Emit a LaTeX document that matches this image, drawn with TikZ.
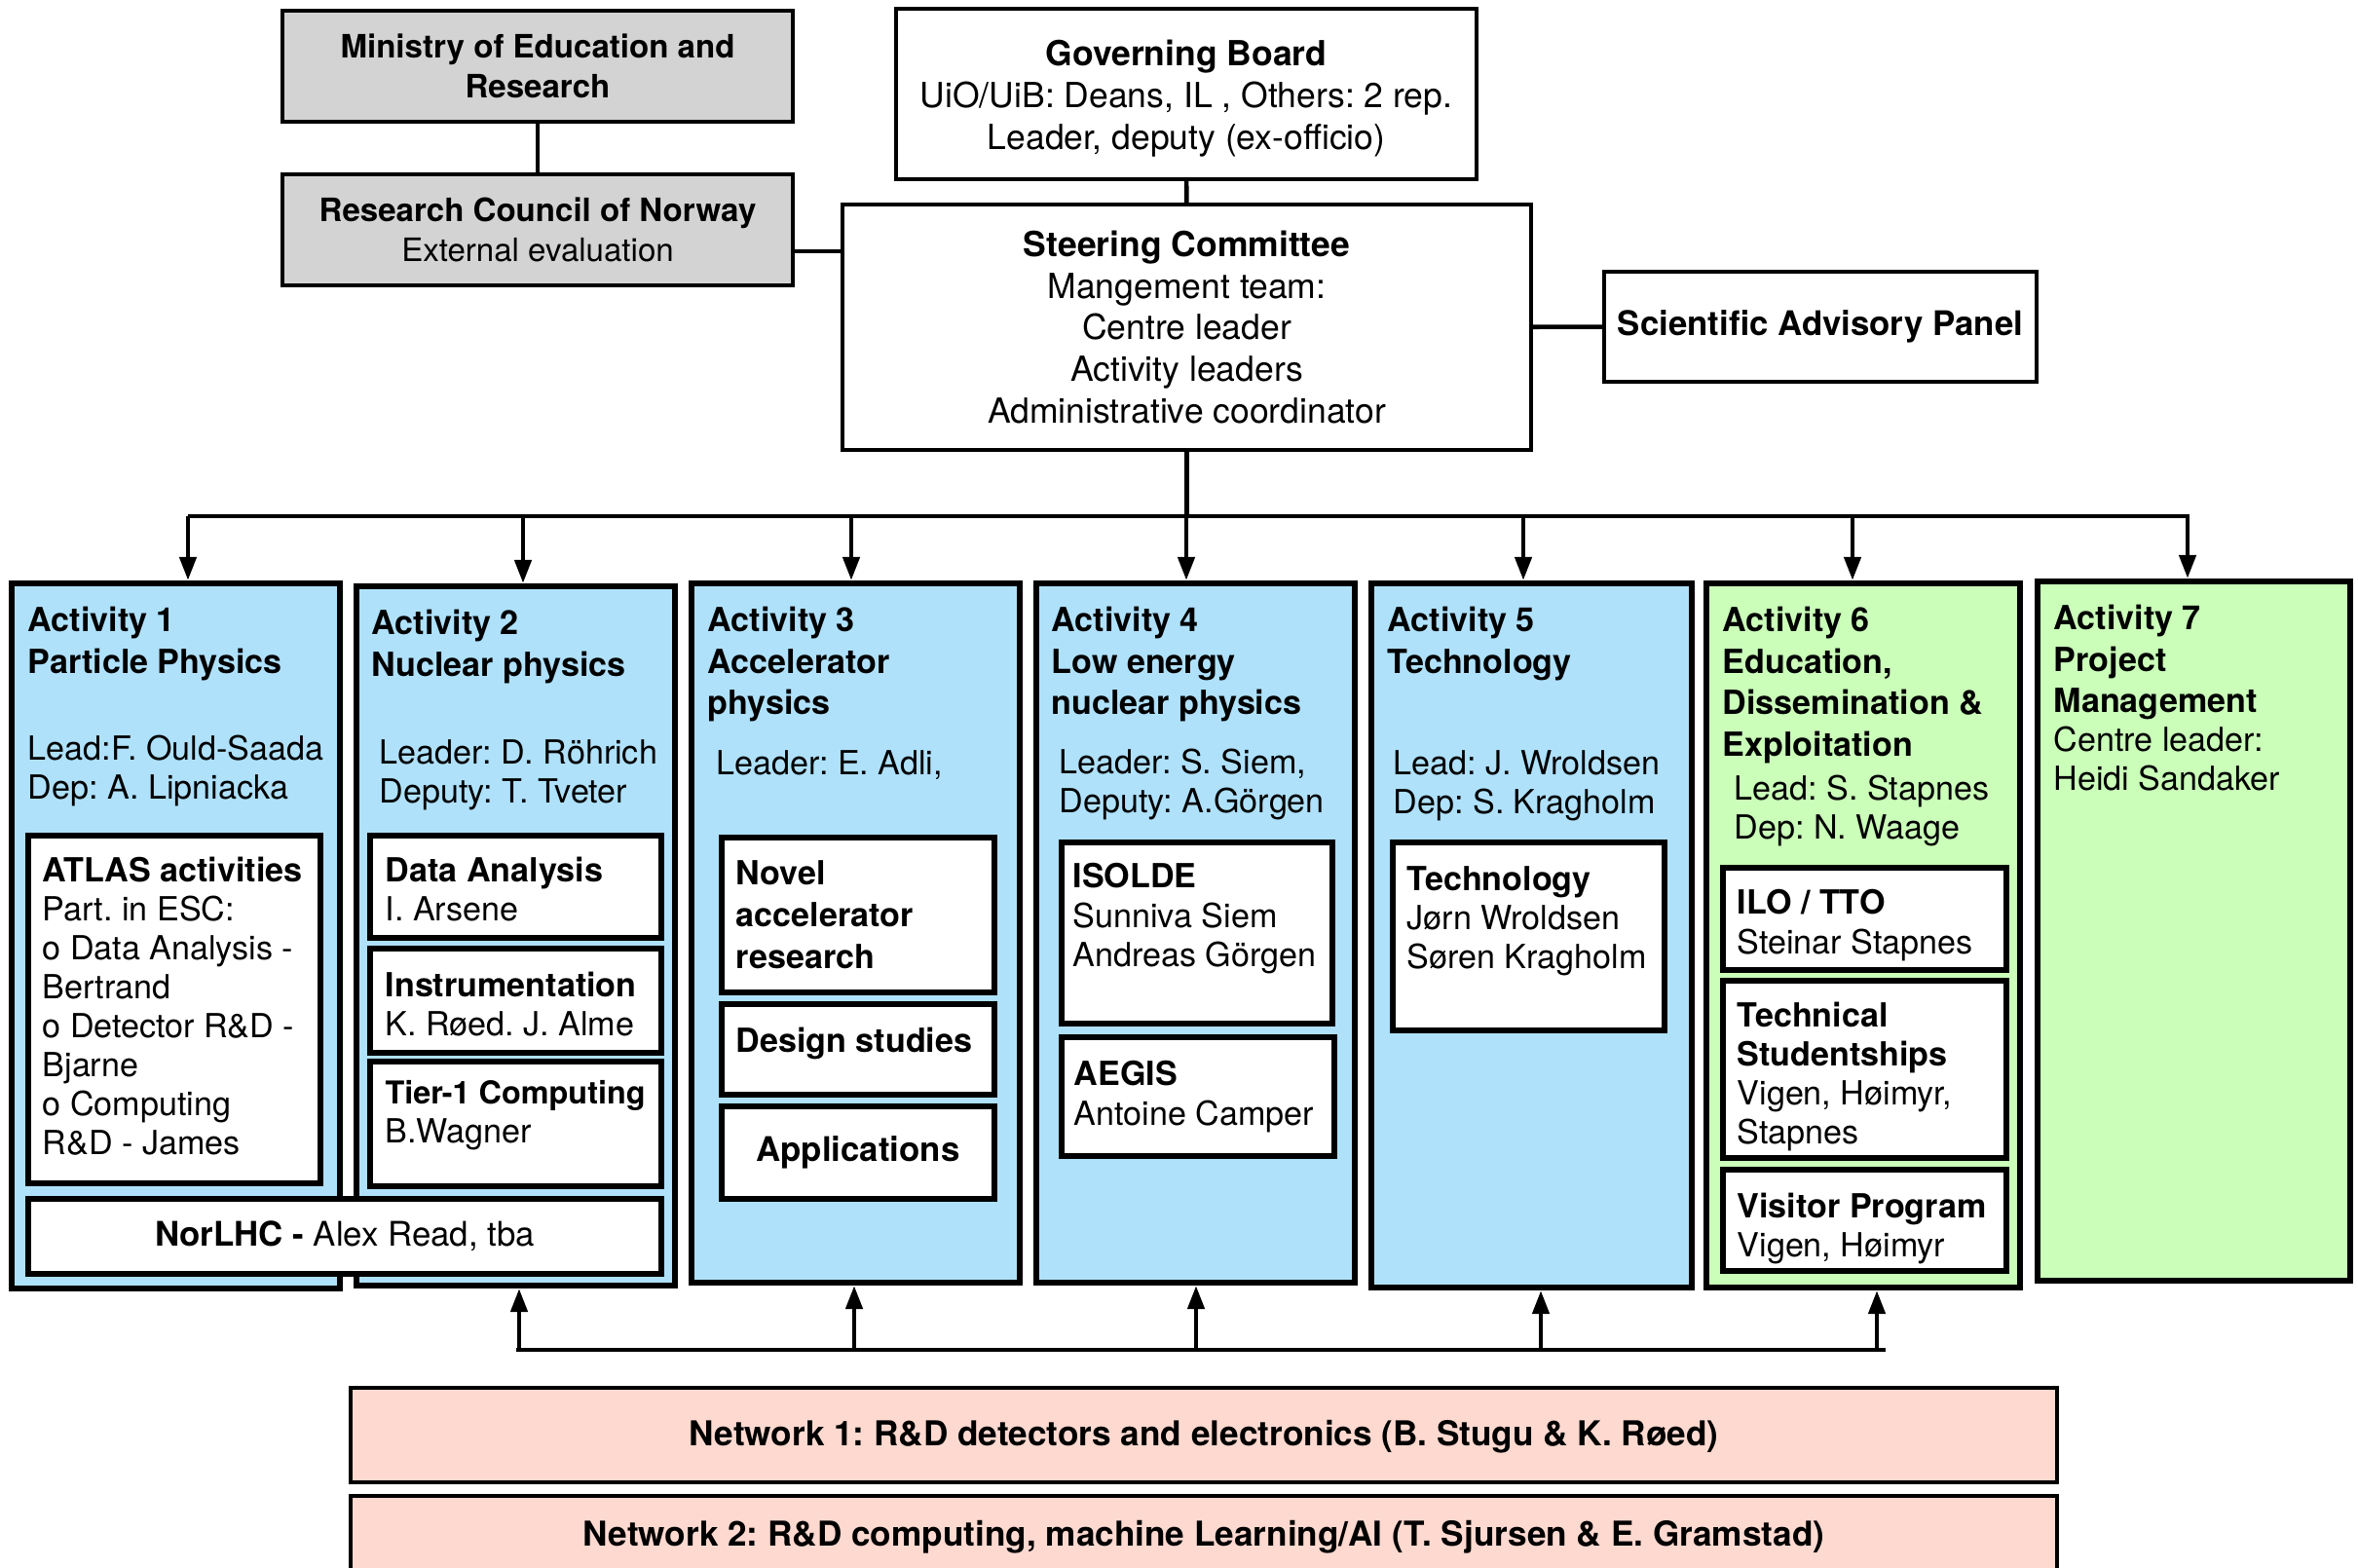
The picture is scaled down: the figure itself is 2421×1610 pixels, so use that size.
\documentclass[tikz,border=0pt]{standalone}
\usepackage{fontspec}
\setmainfont{TeX Gyre Heros}
\usepackage{tikz}
\usetikzlibrary{arrows.meta}
\usetikzlibrary{fit}
\definecolor{actblue}{HTML}{AFE1FB}
\definecolor{actgreen}{HTML}{CAFEB9}
\definecolor{boardgray}{HTML}{D3D3D3}
\definecolor{netpink}{HTML}{FDD9D0}
\frenchspacing

\begin{document}
\begin{tikzpicture}[x=0.01cm,y=-0.01cm,
	topbox/.style={draw,line width=1pt,inner sep=0pt},
	boxtext/.style={inner sep=0pt,align=center,font=\fontsize{10.1}{12.2}\selectfont},
	graytext/.style={inner sep=0pt,align=center,font=\fontsize{9.4}{11.6}\selectfont},
	actbox/.style={draw,line width=1.8pt,inner sep=0pt},
	subbox/.style={draw,line width=1.8pt,fill=white,inner sep=0pt},
	acthead/.style={anchor=north west,inner sep=0pt,align=left,font=\fontsize{9.7}{12.2}\selectfont\bfseries},
	acttext/.style={anchor=north west,inner sep=0pt,align=left,font=\fontsize{9.7}{11.4}\selectfont},
	conn/.style={line width=1.3pt},
	arr/.style={line width=1.3pt,-{Triangle[length=0.24cm,width=0.17cm]}}]
			\clip (0,0) rectangle (2421,1610);
			\node[topbox,fill=boardgray,fit={(290,11)(814,125)}] (ministry) {};
			\node[graytext] (ministrytxt) at (ministry) {{\bfseries Ministry of Education and}\\{\bfseries Research}};
			\node[topbox,fill=boardgray,fit={(290,179)(814,293)}] (rcn) {};
			\node[graytext] (rcntxt) at (rcn) {{\bfseries Research Council of Norway}\\External evaluation};
			\node[topbox,fit={(920,9)(1516,184)}] (gb) {};
			\node[boxtext,yshift=-1.3pt] (gbtxt) at (gb) {{\bfseries Governing Board}\\UiO/UiB: Deans, IL , Others: 2 rep.\\Leader, deputy (ex-officio)};
			\node[topbox,fit={(865,210)(1572,462)}] (sc) {};
			\node[boxtext] (sctxt) at (sc) {{\bfseries Steering Committee}\\Mangement team:\\Centre leader\\Activity leaders\\Administrative coordinator};
			\node[topbox,fit={(1647,279)(2091,392)}] (sap) {};
			\node[boxtext,font=\fontsize{9.9}{12}\selectfont] (saptxt) at (sap) {\bfseries Scientific Advisory Panel};
			\draw[conn] (ministry) -- (rcn);
			\draw[conn] (gb) -- (sc);
			\draw[conn] (rcn.east|-0,258) -- (sc.west|-0,258);
			\draw[conn] (sc) -- (sap);
			\coordinate (busl) at (193,530);
			\coordinate (busr) at (2248,530);
			\draw[conn] (sc.south) -- (sc.south|-busl);
			\draw[conn] (busl) -- (busr);
			\node[actbox,fill=actblue,fit={(12,599)(349,1323)}] (act1) {};
			\node[actbox,fill=actblue,fit={(366,602)(693,1320)}] (act2) {};
			\node[actbox,fill=actblue,fit={(710,599)(1047,1317)}] (act3) {};
			\node[actbox,fill=actblue,fit={(1064,599)(1391,1317)}] (act4) {};
			\node[actbox,fill=actblue,fit={(1408,599)(1737,1322)}] (act5) {};
			\node[actbox,fill=actgreen,fit={(1752,599)(2074,1322)}] (act6) {};
			\node[actbox,fill=actgreen,fit={(2092,597)(2413,1315)}] (act7) {};
			\foreach \x/\n in {193/1,537/2,874/3,1218/4,1564/5,1902/6,2246/7}
				\draw[arr] (busl-|\x,0) -- (act\n.north-|\x,0);
			\node[acthead] (act1head) at (28,622) {Activity 1\\Particle Physics};
			\node[acttext] (act1lead) at (28,754) {Lead:F. Ould-Saada\\Dep: A. Lipniacka};
			\node[acthead] (act2head) at (381,625) {Activity 2\\Nuclear physics};
			\node[acttext] (act2lead) at (389,759) {Leader: D. Röhrich\\Deputy: T. Tveter};
			\node[acthead] (act3head) at (726,622) {Activity 3\\Accelerator\\physics};
			\node[acttext] (act3lead) at (735,770) {Leader: E. Adli,};
			\node[acthead] (act4head) at (1079,622) {Activity 4\\Low energy\\nuclear physics};
			\node[acttext] (act4lead) at (1087,768) {Leader: S. Siem,\\Deputy: A.Görgen};
			\node[acthead] (act5head) at (1424,622) {Activity 5\\Technology};
			\node[acttext] (act5lead) at (1430,770) {Lead: J. Wroldsen\\Dep: S. Kragholm};
			\node[acthead] (act6head) at (1768,622) {Activity 6\\Education,\\Dissemination \&\\Exploitation};
			\node[acttext] (act6lead) at (1780,795) {Lead: S. Stapnes\\Dep: N. Waage};
			\node[acthead] (act7head) at (2108,620) {Activity 7\\Project\\Management};
			\node[acttext] (act7lead) at (2108,745) {Centre leader:\\Heidi Sandaker};
			\node[subbox,fit={(29,858)(329,1215)}] (atlas) {};
			\node[acttext] (atlastxt) at (43,879) {{\bfseries ATLAS activities}\\Part. in ESC:\\o Data Analysis -\\Bertrand\\o Detector R\&D -\\Bjarne\\o Computing\\R\&D - James};
			\node[subbox,fit={(29,1231)(679,1308)}] (norlhc) {};
			\node[boxtext,font=\fontsize{9.9}{12}\selectfont] (norlhctxt) at (norlhc) {{\bfseries NorLHC -} Alex Read, tba};
			\node[subbox,fit={(380,858)(679,963)}] (dataan) {};
			\node[acttext] (dataantxt) at (395,879) {{\bfseries Data Analysis}\\I. Arsene};
			\node[subbox,fit={(380,974)(679,1081)}] (instr) {};
			\node[acttext] (instrtxt) at (395,997) {{\bfseries Instrumentation}\\K. Røed. J. Alme};
			\node[subbox,fit={(380,1090)(679,1218)}] (tier) {};
			\node[acttext] (tiertxt) at (395,1109) {{\fontsize{9.2}{11.4}\selectfont\bfseries Tier-1 Computing}\\B.Wagner};
			\node[subbox,fit={(741,860)(1021,1019)}] (novel) {};
			\node[acthead] (noveltxt) at (755,883) {Novel\\accelerator\\research};
			\node[subbox,fit={(741,1031)(1021,1124)}] (design) {};
			\node[acthead] (designtxt) at (755,1054) {Design studies};
			\node[subbox,fit={(741,1136)(1021,1231)}] (apps) {};
			\node[boxtext,font=\fontsize{9.9}{12}\selectfont] (appstxt) at (apps) {\bfseries Applications};
			\node[subbox,fit={(1090,865)(1368,1051)}] (isolde) {};
			\node[acttext] (isoldetxt) at (1101,886) {{\bfseries ISOLDE}\\Sunniva Siem\\Andreas Görgen};
			\node[subbox,fit={(1090,1065)(1370,1187)}] (aegis) {};
			\node[acttext] (aegistxt) at (1102,1089) {{\bfseries AEGIS}\\Antoine Camper};
			\node[subbox,fit={(1430,865)(1709,1058)}] (tech) {};
			\node[acttext] (techtxt) at (1444,889) {{\bfseries Technology}\\Jørn Wroldsen\\Søren Kragholm};
			\node[subbox,fit={(1769,891)(2060,996)}] (ilo) {};
			\node[acttext] (ilotxt) at (1783,913) {{\bfseries ILO / TTO}\\Steinar Stapnes};
			\node[subbox,fit={(1769,1007)(2060,1189)}] (stud) {};
			\node[acttext] (studtxt) at (1783,1028) {{\bfseries Technical}\\{\bfseries Studentships}\\Vigen, Høimyr,\\Stapnes};
			\node[subbox,fit={(1769,1201)(2060,1305)}] (visit) {};
			\node[acttext] (visittxt) at (1783,1224) {{\bfseries Visitor Program}\\Vigen, Høimyr};
			\coordinate (netl) at (530,1386);
			\coordinate (netr) at (1936,1386);
			\draw[conn] (netl) -- (netr);
			\foreach \x/\n in {533/2,877/3,1228/4,1582/5,1927/6}
				\draw[arr] (netl-|\x,0) -- (act\n.south-|\x,0);
			\node[topbox,fill=netpink,fit={(360,1425)(2112,1522)}] (net1) {};
			\node[boxtext,font=\fontsize{10}{12}\selectfont,yshift=-0.6pt] (net1txt) at (net1) {\bfseries Network 1: R\&D detectors and electronics (B. Stugu \& K. Røed)};
			\node[topbox,fill=netpink,fit={(360,1536)(2112,1620)}] (net2) {};
			\node[boxtext,font=\fontsize{10}{12}\selectfont] (net2txt) at (net2) {\bfseries Network 2: R\&D computing, machine Learning/AI (T. Sjursen \& E. Gramstad)};
		\end{tikzpicture}
\end{document}
